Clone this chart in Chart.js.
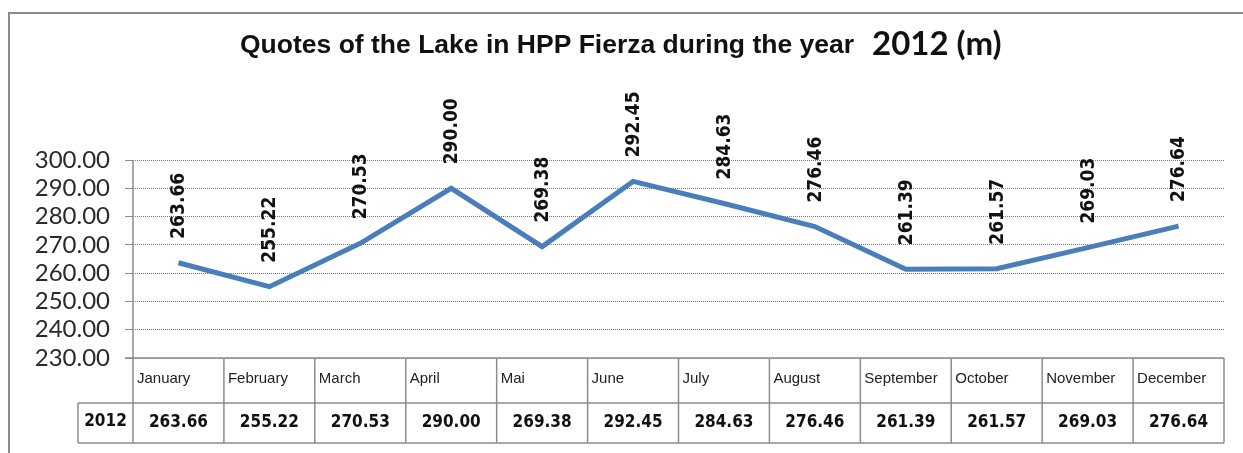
<!DOCTYPE html>
<html>
<head>
<meta charset="utf-8">
<script src="https://cdn.jsdelivr.net/npm/chart.js@4"></script>
<style>
  body { margin: 0; background: #fff; }
  canvas { display: block; }
</style>
</head>
<body>
<canvas id="lakeChart" width="1243" height="453"></canvas>
<script>
// data
const months = ['January', 'February', 'March', 'April', 'Mai', 'June', 'July', 'August', 'September', 'October', 'November', 'December'];
const levels2012 = [263.66, 255.22, 270.53, 290.00, 269.38, 292.45, 284.63, 276.46, 261.39, 261.57, 269.03, 276.64];
const seriesName = '2012';
const yTicks = [230, 240, 250, 260, 270, 280, 290, 300];

const gridGray = '#8c8c8c';
const lineBlue = '#4a7ebb';

// title, frame, value labels and the data table under the axis
const decorPlugin = {
    id: 'decor',
    afterDatasetsDraw(chart) {
        const ctx = chart.ctx;
        const meta = chart.getDatasetMeta(0);
        ctx.save();
        ctx.fillStyle = '#111';
        ctx.font = 'bold 19px "DejaVu Sans Condensed", "DejaVu Sans", sans-serif';
        ctx.textAlign = 'left';
        ctx.textBaseline = 'middle';
        meta.data.forEach((pt, i) => {
            ctx.save();
            ctx.translate(pt.x, pt.y - 24);
            ctx.rotate(-Math.PI / 2);
            ctx.fillText(levels2012[i].toFixed(2), 0, 1);
            ctx.restore();
        });
        ctx.restore();
    },
    afterDraw(chart) {
        const ctx = chart.ctx;
        const area = chart.chartArea;
        const x = chart.scales.x;
        ctx.save();

        // outer frame
        ctx.strokeStyle = '#8a8a8a';
        ctx.lineWidth = 2;
        ctx.beginPath();
        ctx.moveTo(1243, 13);
        ctx.lineTo(9, 13);
        ctx.lineTo(9, 453);
        ctx.stroke();

        // title
        ctx.fillStyle = '#111';
        ctx.textBaseline = 'alphabetic';
        ctx.textAlign = 'left';
        ctx.font = 'bold 26.5px "Liberation Sans", Arial, sans-serif';
        ctx.fillText('Quotes of the Lake in HPP Fierza during the year', 240, 53);
        ctx.font = 'bold 33px Lato, "Open Sans", sans-serif';
        ctx.fillText('2012 (m)', 872, 55);

        // table cells
        const bounds = [area.left];
        for (let i = 1; i < months.length; i++) {
            bounds.push((x.getPixelForValue(i - 1) + x.getPixelForValue(i)) / 2);
        }
        bounds.push(area.right);
        const rowTop = area.bottom;
        const rowMid = area.bottom + 45;
        const rowBot = area.bottom + 85;
        const tableLeft = 78;

        ctx.strokeStyle = gridGray;
        ctx.lineWidth = 1.5;
        ctx.setLineDash([]);
        ctx.beginPath();
        ctx.moveTo(area.left - 8, rowTop);
        ctx.lineTo(area.right, rowTop);
        ctx.moveTo(tableLeft, rowMid);
        ctx.lineTo(area.right, rowMid);
        ctx.moveTo(tableLeft, rowBot);
        ctx.lineTo(area.right, rowBot);
        ctx.moveTo(tableLeft, rowMid);
        ctx.lineTo(tableLeft, rowBot);
        ctx.moveTo(area.left, area.top);
        ctx.lineTo(area.left, rowBot);
        bounds.forEach(b => {
            ctx.moveTo(b, rowTop);
            ctx.lineTo(b, rowBot);
        });
        ctx.stroke();

        // month names
        ctx.fillStyle = '#222';
        ctx.font = '15px "Liberation Sans", Arial, sans-serif';
        ctx.textBaseline = 'middle';
        ctx.textAlign = 'left';
        months.forEach((m, i) => {
            ctx.fillText(m, bounds[i] + 4, rowTop + 21);
        });

        // series row
        ctx.fillStyle = '#111';
        ctx.font = 'bold 17px "DejaVu Sans Condensed", "DejaVu Sans", sans-serif';
        ctx.textAlign = 'center';
        ctx.fillText(seriesName, (tableLeft + area.left) / 2, rowMid + 19);
        levels2012.forEach((v, i) => {
            ctx.fillText(v.toFixed(2), (bounds[i] + bounds[i + 1]) / 2, rowMid + 20);
        });

        ctx.restore();
    }
};

new Chart(document.getElementById('lakeChart').getContext('2d'), {
    type: 'line',
    data: {
        labels: months,
        datasets: [{
            label: seriesName,
            data: levels2012,
            borderColor: lineBlue,
            borderWidth: 5,
            pointRadius: 0,
            tension: 0,
            fill: false,
        }],
    },
    options: {
        responsive: false,
        animation: false,
        devicePixelRatio: 1,
        layout: {
            padding: { left: 0, top: 160, right: 19, bottom: 87 },
        },
        plugins: {
            legend: { display: false },
            title: { display: false },
            tooltip: { enabled: false },
        },
        scales: {
            x: {
                type: 'category',
                offset: true,
                grid: { display: false },
                ticks: { display: false },
                border: { display: false },
            },
            y: {
                min: 230,
                max: 300,
                afterBuildTicks(scale) {
                    scale.ticks = yTicks.map(v => ({ value: v }));
                },
                afterFit(scale) {
                    scale.width = 133;
                },
                ticks: {
                    autoSkip: false,
                    padding: 15,
                    color: '#2a2a2a',
                    font: { family: 'Lato, "Open Sans", sans-serif', size: 24 },
                    callback: v => Number(v).toFixed(2),
                },
                grid: {
                    color: '#7a7a7a',
                    lineWidth: 1,
                    tickLength: 8,
                    tickColor: gridGray,
                    borderDash: [1, 1],
                    tickBorderDash: [],
                },
                border: {
                    display: false,
                    dash: [1, 1],
                },
            },
        },
    },
    plugins: [decorPlugin],
});
</script>
</body>
</html>
